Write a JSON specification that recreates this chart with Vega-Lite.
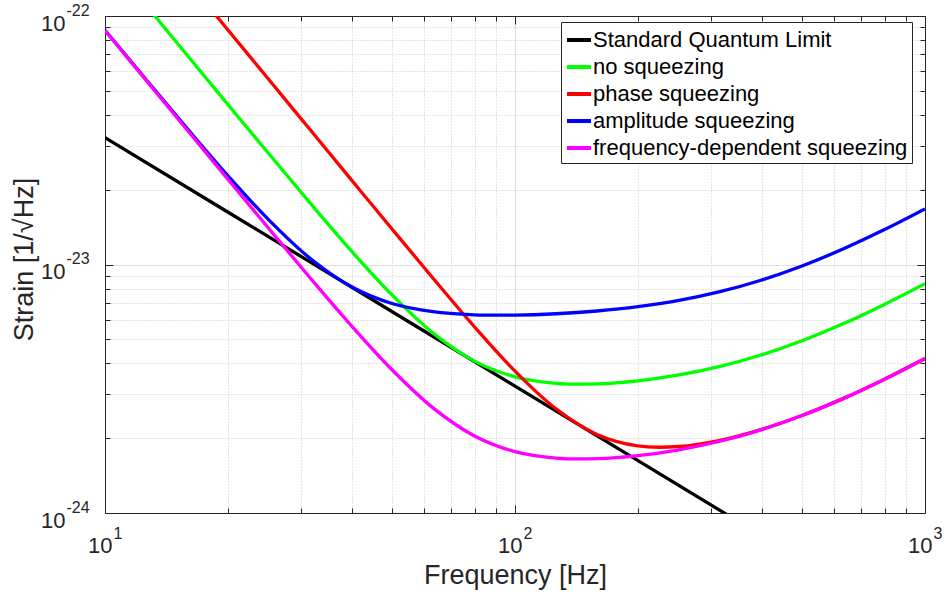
{
  "$schema": "https://vega.github.io/schema/vega-lite/v6.json",
  "width": 820,
  "height": 497,
  "autosize": {"type": "none"},
  "padding": {"left": 105, "top": 16, "right": 24, "bottom": 81},
  "background": "white",
  "config": {
    "view": {"stroke": "#262626", "strokeWidth": 1},
    "font": "Liberation Sans",
    "axis": {
      "labelFont": "Liberation Sans",
      "titleFont": "Liberation Sans",
      "labelColor": "#262626",
      "titleColor": "#262626",
      "domainColor": "#262626",
      "tickColor": "#262626",
      "titleFontWeight": "normal",
      "labelFontSize": 22,
      "titleFontSize": 27,
      "labelFlush": false,
      "labelOverlap": false,
      "tickWidth": 1,
      "domainWidth": 1
    },
    "legend": {
      "orient": "none",
      "legendX": 456,
      "legendY": 6,
      "labelFont": "Liberation Sans",
      "labelFontSize": 22,
      "labelColor": "#000000",
      "symbolType": "stroke",
      "symbolSize": 576,
      "symbolStrokeWidth": 4,
      "strokeColor": "#262626",
      "fillColor": "white",
      "padding": 4,
      "rowPadding": 2,
      "labelLimit": 600,
      "labelOffset": 0
    }
  },
  "datasets": {
    "curves": [
      {"f": 10, "h": 3.2404e-23, "s": "Standard Quantum Limit"},
      {"f": 31.62, "h": 1.0248e-23, "s": "Standard Quantum Limit"},
      {"f": 100, "h": 3.2404e-24, "s": "Standard Quantum Limit"},
      {"f": 316.2, "h": 1.0248e-24, "s": "Standard Quantum Limit"},
      {"f": 1000, "h": 3.2404e-25, "s": "Standard Quantum Limit"},

      {"f": 10, "h": 1.7497e-22, "s": "no squeezing"},
      {"f": 12.59, "h": 1.1039e-22, "s": "no squeezing"},
      {"f": 15.85, "h": 6.967e-23, "s": "no squeezing"},
      {"f": 19.95, "h": 4.4e-23, "s": "no squeezing"},
      {"f": 25.12, "h": 2.7838e-23, "s": "no squeezing"},
      {"f": 31.62, "h": 1.7699e-23, "s": "no squeezing"},
      {"f": 39.81, "h": 1.1389e-23, "s": "no squeezing"},
      {"f": 50.12, "h": 7.541e-24, "s": "no squeezing"},
      {"f": 63.1, "h": 5.297e-24, "s": "no squeezing"},
      {"f": 79.43, "h": 4.094e-24, "s": "no squeezing"},
      {"f": 100, "h": 3.532e-24, "s": "no squeezing"},
      {"f": 125.9, "h": 3.327e-24, "s": "no squeezing"},
      {"f": 158.5, "h": 3.309e-24, "s": "no squeezing"},
      {"f": 199.5, "h": 3.403e-24, "s": "no squeezing"},
      {"f": 251.2, "h": 3.592e-24, "s": "no squeezing"},
      {"f": 316.2, "h": 3.889e-24, "s": "no squeezing"},
      {"f": 398.1, "h": 4.322e-24, "s": "no squeezing"},
      {"f": 501.2, "h": 4.933e-24, "s": "no squeezing"},
      {"f": 631, "h": 5.771e-24, "s": "no squeezing"},
      {"f": 794.3, "h": 6.893e-24, "s": "no squeezing"},
      {"f": 1000, "h": 8.369e-24, "s": "no squeezing"},

      {"f": 10, "h": 3.499e-22, "s": "phase squeezing"},
      {"f": 12.59, "h": 2.207e-22, "s": "phase squeezing"},
      {"f": 15.85, "h": 1.3922e-22, "s": "phase squeezing"},
      {"f": 19.95, "h": 8.781e-23, "s": "phase squeezing"},
      {"f": 25.12, "h": 5.537e-23, "s": "phase squeezing"},
      {"f": 31.62, "h": 3.4915e-23, "s": "phase squeezing"},
      {"f": 39.81, "h": 2.2015e-23, "s": "phase squeezing"},
      {"f": 50.12, "h": 1.3898e-23, "s": "phase squeezing"},
      {"f": 63.1, "h": 8.808e-24, "s": "phase squeezing"},
      {"f": 79.43, "h": 5.644e-24, "s": "phase squeezing"},
      {"f": 100, "h": 3.725e-24, "s": "phase squeezing"},
      {"f": 125.9, "h": 2.626e-24, "s": "phase squeezing"},
      {"f": 158.5, "h": 2.0717e-24, "s": "phase squeezing"},
      {"f": 199.5, "h": 1.8618e-24, "s": "phase squeezing"},
      {"f": 251.2, "h": 1.8516e-24, "s": "phase squeezing"},
      {"f": 316.2, "h": 1.9618e-24, "s": "phase squeezing"},
      {"f": 398.1, "h": 2.1661e-24, "s": "phase squeezing"},
      {"f": 501.2, "h": 2.4678e-24, "s": "phase squeezing"},
      {"f": 631, "h": 2.8856e-24, "s": "phase squeezing"},
      {"f": 794.3, "h": 3.4465e-24, "s": "phase squeezing"},
      {"f": 1000, "h": 4.1844e-24, "s": "phase squeezing"},

      {"f": 10, "h": 8.768e-23, "s": "amplitude squeezing"},
      {"f": 12.59, "h": 5.55e-23, "s": "amplitude squeezing"},
      {"f": 15.85, "h": 3.532e-23, "s": "amplitude squeezing"},
      {"f": 19.95, "h": 2.2757e-23, "s": "amplitude squeezing"},
      {"f": 25.12, "h": 1.5087e-23, "s": "amplitude squeezing"},
      {"f": 31.62, "h": 1.0597e-23, "s": "amplitude squeezing"},
      {"f": 39.81, "h": 8.157e-24, "s": "amplitude squeezing"},
      {"f": 50.12, "h": 6.967e-24, "s": "amplitude squeezing"},
      {"f": 63.1, "h": 6.456e-24, "s": "amplitude squeezing"},
      {"f": 79.43, "h": 6.276e-24, "s": "amplitude squeezing"},
      {"f": 100, "h": 6.258e-24, "s": "amplitude squeezing"},
      {"f": 125.9, "h": 6.336e-24, "s": "amplitude squeezing"},
      {"f": 158.5, "h": 6.499e-24, "s": "amplitude squeezing"},
      {"f": 199.5, "h": 6.764e-24, "s": "amplitude squeezing"},
      {"f": 251.2, "h": 7.171e-24, "s": "amplitude squeezing"},
      {"f": 316.2, "h": 7.7726e-24, "s": "amplitude squeezing"},
      {"f": 398.1, "h": 8.6426e-24, "s": "amplitude squeezing"},
      {"f": 501.2, "h": 9.8654e-24, "s": "amplitude squeezing"},
      {"f": 631, "h": 1.1541e-23, "s": "amplitude squeezing"},
      {"f": 794.3, "h": 1.37856e-23, "s": "amplitude squeezing"},
      {"f": 1000, "h": 1.67374e-23, "s": "amplitude squeezing"},

      {"f": 10, "h": 8.7485e-23, "s": "frequency-dependent squeezing"},
      {"f": 12.59, "h": 5.5195e-23, "s": "frequency-dependent squeezing"},
      {"f": 15.85, "h": 3.4835e-23, "s": "frequency-dependent squeezing"},
      {"f": 19.95, "h": 2.2e-23, "s": "frequency-dependent squeezing"},
      {"f": 25.12, "h": 1.3919e-23, "s": "frequency-dependent squeezing"},
      {"f": 31.62, "h": 8.8495e-24, "s": "frequency-dependent squeezing"},
      {"f": 39.81, "h": 5.6945e-24, "s": "frequency-dependent squeezing"},
      {"f": 50.12, "h": 3.7705e-24, "s": "frequency-dependent squeezing"},
      {"f": 63.1, "h": 2.6485e-24, "s": "frequency-dependent squeezing"},
      {"f": 79.43, "h": 2.047e-24, "s": "frequency-dependent squeezing"},
      {"f": 100, "h": 1.766e-24, "s": "frequency-dependent squeezing"},
      {"f": 125.9, "h": 1.6635e-24, "s": "frequency-dependent squeezing"},
      {"f": 158.5, "h": 1.6545e-24, "s": "frequency-dependent squeezing"},
      {"f": 199.5, "h": 1.7015e-24, "s": "frequency-dependent squeezing"},
      {"f": 251.2, "h": 1.796e-24, "s": "frequency-dependent squeezing"},
      {"f": 316.2, "h": 1.9445e-24, "s": "frequency-dependent squeezing"},
      {"f": 398.1, "h": 2.161e-24, "s": "frequency-dependent squeezing"},
      {"f": 501.2, "h": 2.4665e-24, "s": "frequency-dependent squeezing"},
      {"f": 631, "h": 2.8855e-24, "s": "frequency-dependent squeezing"},
      {"f": 794.3, "h": 3.4465e-24, "s": "frequency-dependent squeezing"},
      {"f": 1000, "h": 4.1845e-24, "s": "frequency-dependent squeezing"}
    ]
  },
  "data": {"name": "curves"},
  "layer": [
    {
      "transform": [{"filter": "datum.s == 'Standard Quantum Limit'"}],
      "mark": {"type": "line", "clip": true, "strokeWidth": 3.3, "interpolate": "catmull-rom"},
      "encoding": {
        "x": {"field": "f", "type": "quantitative", "scale": {"type": "log", "domain": [10, 1000], "nice": false},
          "axis": {"orient": "bottom", "values": [10, 100, 1000], "grid": true, "gridColor": "#dedede", "gridWidth": 1, "tickSize": -8, "labelPadding": 47, "labelBaseline": "alphabetic", "labelAlign": "right", "labelOffset": 7,
            "labelExpr": "'10'",
            "title": "Frequency [Hz]", "titleX": 410, "titleY": 70, "titleBaseline": "alphabetic", "titleAlign": "center", "titleAnchor": null}},
        "y": {"field": "h", "type": "quantitative", "scale": {"type": "log", "domain": [1e-24, 1e-22], "nice": false},
          "axis": {"orient": "left", "values": [1e-24, 1e-23, 1e-22], "grid": true, "gridColor": "#dedede", "gridWidth": 1, "tickSize": -8, "labelPadding": 48, "labelAlign": "right", "labelBaseline": "alphabetic", "labelOffset": 14,
            "labelExpr": "'10'",
            "title": "Strain [1/√Hz]", "titleX": -73, "titleY": 243, "titleAngle": 270, "titleBaseline": "alphabetic", "titleAlign": "center", "titleAnchor": null}},
        "color": {"field": "s", "type": "nominal", "title": null,
          "scale": {"domain": ["Standard Quantum Limit", "no squeezing", "phase squeezing", "amplitude squeezing", "frequency-dependent squeezing"], "range": ["#000000", "#00ff00", "#ff0000", "#0000ff", "#ff00ff"]}}
      }
    },
    {
      "transform": [{"filter": "datum.s == 'no squeezing'"}],
      "mark": {"type": "line", "clip": true, "strokeWidth": 3.3, "interpolate": "catmull-rom"},
      "encoding": {
        "x": {"field": "f", "type": "quantitative", "scale": {"type": "log", "domain": [10, 1000], "nice": false},
          "axis": {"orient": "bottom", "values": [20, 30, 40, 50, 60, 70, 80, 90, 200, 300, 400, 500, 600, 700, 800, 900], "grid": true, "gridColor": "#c8c8c8", "gridDash": [1, 2], "gridWidth": 1, "tickSize": -5, "labels": false, "domain": false, "title": null}},
        "y": {"field": "h", "type": "quantitative", "scale": {"type": "log", "domain": [1e-24, 1e-22], "nice": false},
          "axis": {"orient": "left", "values": [2e-24, 3e-24, 4e-24, 5e-24, 6e-24, 7e-24, 8e-24, 9e-24, 2e-23, 3e-23, 4e-23, 5e-23, 6e-23, 7e-23, 8e-23, 9e-23], "grid": true, "gridColor": "#c8c8c8", "gridDash": [1, 2], "gridWidth": 1, "tickSize": -5, "labels": false, "domain": false, "title": null}},
        "color": {"field": "s", "type": "nominal", "title": null,
          "scale": {"domain": ["Standard Quantum Limit", "no squeezing", "phase squeezing", "amplitude squeezing", "frequency-dependent squeezing"], "range": ["#000000", "#00ff00", "#ff0000", "#0000ff", "#ff00ff"]}}
      }
    },
    {
      "transform": [{"filter": "datum.s == 'phase squeezing'"}],
      "mark": {"type": "line", "clip": true, "strokeWidth": 3.3, "interpolate": "catmull-rom"},
      "encoding": {
        "x": {"field": "f", "type": "quantitative", "scale": {"type": "log", "domain": [10, 1000], "nice": false},
          "axis": {"orient": "top", "values": [10, 100, 1000], "grid": false, "tickSize": -8, "labels": false, "domain": true, "title": null}},
        "y": {"field": "h", "type": "quantitative", "scale": {"type": "log", "domain": [1e-24, 1e-22], "nice": false},
          "axis": {"orient": "right", "values": [1e-24, 1e-23, 1e-22], "grid": false, "tickSize": -8, "labels": false, "domain": true, "title": null}},
        "color": {"field": "s", "type": "nominal", "title": null,
          "scale": {"domain": ["Standard Quantum Limit", "no squeezing", "phase squeezing", "amplitude squeezing", "frequency-dependent squeezing"], "range": ["#000000", "#00ff00", "#ff0000", "#0000ff", "#ff00ff"]}}
      }
    },
    {
      "transform": [{"filter": "datum.s == 'amplitude squeezing'"}],
      "mark": {"type": "line", "clip": true, "strokeWidth": 3.3, "interpolate": "catmull-rom"},
      "encoding": {
        "x": {"field": "f", "type": "quantitative", "scale": {"type": "log", "domain": [10, 1000], "nice": false},
          "axis": {"orient": "top", "values": [20, 30, 40, 50, 60, 70, 80, 90, 200, 300, 400, 500, 600, 700, 800, 900], "grid": false, "tickSize": -5, "labels": false, "domain": false, "title": null}},
        "y": {"field": "h", "type": "quantitative", "scale": {"type": "log", "domain": [1e-24, 1e-22], "nice": false},
          "axis": {"orient": "right", "values": [2e-24, 3e-24, 4e-24, 5e-24, 6e-24, 7e-24, 8e-24, 9e-24, 2e-23, 3e-23, 4e-23, 5e-23, 6e-23, 7e-23, 8e-23, 9e-23], "grid": false, "tickSize": -5, "labels": false, "domain": false, "title": null}},
        "color": {"field": "s", "type": "nominal", "title": null,
          "scale": {"domain": ["Standard Quantum Limit", "no squeezing", "phase squeezing", "amplitude squeezing", "frequency-dependent squeezing"], "range": ["#000000", "#00ff00", "#ff0000", "#0000ff", "#ff00ff"]}}
      }
    },
    {
      "transform": [{"filter": "datum.s == 'frequency-dependent squeezing'"}],
      "mark": {"type": "line", "clip": true, "strokeWidth": 3.3, "interpolate": "catmull-rom"},
      "encoding": {
        "x": {"field": "f", "type": "quantitative", "scale": {"type": "log", "domain": [10, 1000], "nice": false},
          "axis": {"orient": "bottom", "values": [10, 100, 1000], "grid": false, "ticks": false, "domain": false, "labelPadding": 25, "labelBaseline": "alphabetic", "labelAlign": "left", "labelOffset": 8, "labelFontSize": 16,
            "labelExpr": "datum.value < 50 ? '1' : datum.value < 500 ? '2' : '3'", "title": null}},
        "y": {"field": "h", "type": "quantitative", "scale": {"type": "log", "domain": [1e-24, 1e-22], "nice": false},
          "axis": {"orient": "left", "values": [1e-24, 1e-23, 1e-22], "grid": false, "ticks": false, "domain": false, "labelPadding": 39, "labelAlign": "left", "labelBaseline": "alphabetic", "labelOffset": -1, "labelFontSize": 16,
            "labelExpr": "datum.value < 5e-24 ? '-24' : datum.value < 5e-23 ? '-23' : '-22'", "title": null}},
        "color": {"field": "s", "type": "nominal", "title": null,
          "scale": {"domain": ["Standard Quantum Limit", "no squeezing", "phase squeezing", "amplitude squeezing", "frequency-dependent squeezing"], "range": ["#000000", "#00ff00", "#ff0000", "#0000ff", "#ff00ff"]}}
      }
    }
  ],
  "resolve": {"axis": {"x": "independent", "y": "independent"}}
}
